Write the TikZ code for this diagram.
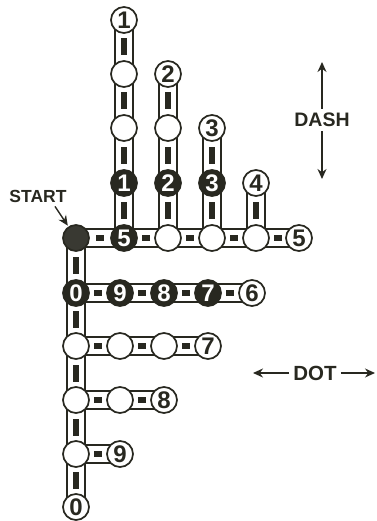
\documentclass[tikz,border=0pt]{standalone}
\usepackage{fontspec}
\setmainfont{Liberation Sans}
\usetikzlibrary{arrows.meta, positioning, backgrounds}
\definecolor{ink}{RGB}{40,40,32}

\begin{document}
\begin{tikzpicture}[x=1pt, y=-1pt, node distance=44pt]
    \tikzstyle{key} = [circle, draw=ink, line width=1.7pt, fill=white, minimum size=26pt, inner sep=0pt, text=ink, font=\fontsize{24}{24}\selectfont\bfseries]
    \tikzstyle{hit} = [key, fill=ink, text=white]
    \tikzstyle{tube} = [draw=ink, line width=1.6pt, double=white, double distance=16pt]
    \tikzstyle{dashmark} = [rectangle, fill=ink, minimum width=6pt, minimum height=17pt, inner sep=0pt]
    \tikzstyle{dotmark} = [rectangle, fill=ink, minimum width=8pt, minimum height=6pt, inner sep=0pt]
    \tikzstyle{cue} = [text=ink, inner sep=4pt, font=\fontsize{18}{18}\selectfont\bfseries]
    \tikzstyle{line} = [draw=ink, line width=1.4pt, -{Stealth[length=10pt, width=9pt]}]

    \useasboundingbox (0,0) rectangle (376,521);

    % base row
    \node [hit, fill=ink!92] (start) at (76,238) {};
    \node [hit] (s5) at (124,238) {5};
    \node [key, right of=s5] (t2) {};
    \node [key, right of=t2] (t3) {};
    \node [key, right of=t3] (t4) {};
    \node [key, right of=t4, node distance=43pt] (n5) {5};

    % columns going up
    \node [hit, above of=s5, node distance=55pt] (u1a) {1};
    \node [key, above of=u1a, node distance=55pt] (u1b) {};
    \node [key, above of=u1b, node distance=54pt] (u1c) {};
    \node [key, above of=u1c, node distance=54pt] (n1) {1};
    \node [hit, above of=t2, node distance=55pt] (u2a) {2};
    \node [key, above of=u2a, node distance=55pt] (u2b) {};
    \node [key, above of=u2b, node distance=54pt] (n2) {2};
    \node [hit, above of=t3, node distance=55pt] (u3a) {3};
    \node [key, above of=u3a, node distance=55pt] (n3) {3};
    \node [key, above of=t4, node distance=55pt] (n4) {4};

    % rows going down the left side
    \node [hit] (h0) at (76,293) {0};
    \node [hit, right of=h0] (h9) {9};
    \node [hit, right of=h9] (h8) {8};
    \node [hit, right of=h8] (h7) {7};
    \node [key, right of=h7] (n6) {6};
    \node [key] (g0) at (76,346) {};
    \node [key, right of=g0] (g1) {};
    \node [key, right of=g1] (g2) {};
    \node [key, right of=g2] (n7) {7};
    \node [key] (f0) at (76,400) {};
    \node [key, right of=f0] (f1) {};
    \node [key, right of=f1] (n8) {8};
    \node [key] (d0) at (76,454) {};
    \node [key, right of=d0] (n9) {9};
    \node [key] (n0) at (76,507) {0};

    \begin{scope}[on background layer]
        % dashes
        \path [tube] (start.center) -- node [dashmark] {} (h0.center);
        \path [tube] (h0.center) -- node [dashmark] {} (g0.center);
        \path [tube] (g0.center) -- node [dashmark] {} (f0.center);
        \path [tube] (f0.center) -- node [dashmark] {} (d0.center);
        \path [tube] (d0.center) -- node [dashmark] {} (n0.center);
        \path [tube] (s5.center) -- node [dashmark] {} (u1a.center);
        \path [tube] (u1a.center) -- node [dashmark] {} (u1b.center);
        \path [tube] (u1b.center) -- node [dashmark] {} (u1c.center);
        \path [tube] (u1c.center) -- node [dashmark] {} (n1.center);
        \path [tube] (t2.center) -- node [dashmark] {} (u2a.center);
        \path [tube] (u2a.center) -- node [dashmark] {} (u2b.center);
        \path [tube] (u2b.center) -- node [dashmark] {} (n2.center);
        \path [tube] (t3.center) -- node [dashmark] {} (u3a.center);
        \path [tube] (u3a.center) -- node [dashmark] {} (n3.center);
        \path [tube] (t4.center) -- node [dashmark] {} (n4.center);
        % dots
        \path [tube] (start.center) -- node [dotmark] {} (s5.center);
        \path [tube] (s5.center) -- node [dotmark] {} (t2.center);
        \path [tube] (t2.center) -- node [dotmark] {} (t3.center);
        \path [tube] (t3.center) -- node [dotmark] {} (t4.center);
        \path [tube] (t4.center) -- node [dotmark] {} (n5.center);
        \path [tube] (h0.center) -- node [dotmark] {} (h9.center);
        \path [tube] (h9.center) -- node [dotmark] {} (h8.center);
        \path [tube] (h8.center) -- node [dotmark] {} (h7.center);
        \path [tube] (h7.center) -- node [dotmark] {} (n6.center);
        \path [tube] (g0.center) -- node [dotmark] {} (g1.center);
        \path [tube] (g1.center) -- node [dotmark] {} (g2.center);
        \path [tube] (g2.center) -- node [dotmark] {} (n7.center);
        \path [tube] (f0.center) -- node [dotmark] {} (f1.center);
        \path [tube] (f1.center) -- node [dotmark] {} (n8.center);
        \path [tube] (d0.center) -- node [dotmark] {} (n9.center);
    \end{scope}

    % labels
    \node [cue, font=\fontsize{17.5}{17.5}\selectfont\bfseries] (startlbl) at (38,196) {START};
    \node [cue, font=\fontsize{19.5}{19.5}\selectfont\bfseries] (dashlbl) at (322,120) {DASH};
    \node [cue, font=\fontsize{20.5}{20.5}\selectfont\bfseries] (dotlbl) at (315,373) {DOT};
    \coordinate (dashup) at (322,62);
    \coordinate (dashdown) at (322,179);
    \coordinate (dotleft) at (253,373);
    \coordinate (dotright) at (375,373);

    \path [line, shorten >=1pt] ([xshift=17pt]startlbl.south) -- (start);
    \path [line] (dashlbl) -- (dashup);
    \path [line] (dashlbl) -- (dashdown);
    \path [line] (dotlbl) -- (dotleft);
    \path [line] (dotlbl) -- (dotright);
\end{tikzpicture}
\end{document}
